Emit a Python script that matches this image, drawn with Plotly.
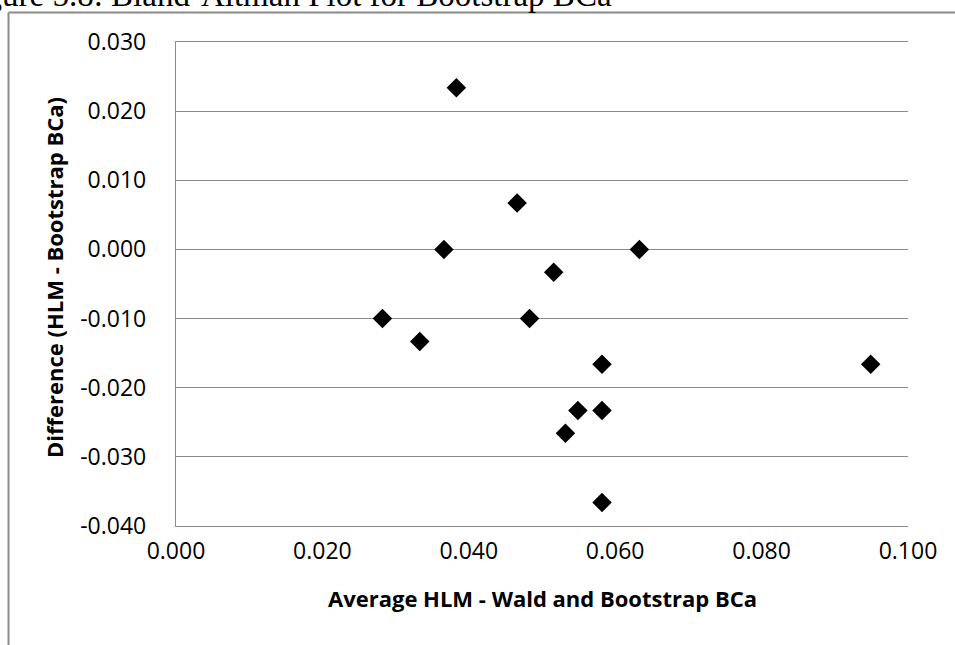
import plotly.graph_objects as go

# Bland-Altman data: mean of the two CI widths vs. their difference
avg_width = [0.0383, 0.0466, 0.0366, 0.0633, 0.0516, 0.0282, 0.0483,
             0.0333, 0.0582, 0.0549, 0.0582, 0.0532, 0.0582, 0.0949]
difference = [0.0234, 0.0067, 0.0000, 0.0000, -0.0033, -0.0100, -0.0100,
              -0.0133, -0.0166, -0.0233, -0.0233, -0.0266, -0.0366, -0.0166]

x_ticks = [0.000, 0.020, 0.040, 0.060, 0.080, 0.100]
y_ticks = [0.030, 0.020, 0.010, 0.000, -0.010, -0.020, -0.030, -0.040]
x_tick_labels = ["0.000", "0.020", "0.040", "0.060", "0.080", "0.100"]
y_tick_labels = ["0.030", "0.020", "0.010", "0.000",
                 "-0.010", "-0.020", "-0.030", "-0.040"]

caption = "Figure 5.8: Bland-Altman Plot for Bootstrap BCa"
x_title = "Average HLM - Wald and Bootstrap BCa"
y_title = "Difference (HLM - Bootstrap BCa)"

W, H = 955, 645
ML, MR, MT, MB = 176, 47, 42, 119
PW, PH = W - ML - MR, H - MT - MB
GRID = "#8a8a8a"


def px_x(px):
    return (px - ML) / PW


def px_y(py):
    return (H - MB - py) / PH


fig = go.Figure(
    go.Scatter(
        x=avg_width,
        y=difference,
        mode="markers",
        marker=dict(symbol="diamond", size=15, color="#000000",
                    line=dict(width=0)),
        showlegend=False,
    )
)

fig.update_layout(
    width=W,
    height=H,
    margin=dict(l=ML, r=MR, t=MT, b=MB, pad=0),
    paper_bgcolor="white",
    plot_bgcolor="white",
    font=dict(family="Open Sans", color="#000000", size=23),
    xaxis=dict(
        range=[0, 0.1],
        tickvals=x_ticks,
        ticktext=x_tick_labels,
        showgrid=False,
        zeroline=False,
        showline=True,
        mirror=True,
        linecolor=GRID,
        linewidth=1.3,
        ticks="",
        ticklabelstandoff=4,
        tickfont=dict(size=23),
    ),
    yaxis=dict(
        range=[-0.04, 0.03],
        tickvals=y_ticks,
        ticktext=y_tick_labels,
        showgrid=True,
        gridcolor=GRID,
        gridwidth=1.3,
        zeroline=False,
        showline=True,
        linecolor=GRID,
        linewidth=1.3,
        ticks="",
        ticklabelstandoff=24,
        tickfont=dict(size=23),
    ),
)

# Axis titles
fig.add_annotation(
    text=f"<b>{x_title}</b>", xref="paper", yref="paper",
    x=0.5, y=px_y(598), xanchor="center", yanchor="middle",
    showarrow=False, font=dict(size=22),
)
fig.add_annotation(
    text=f"<b>{y_title}</b>", xref="paper", yref="paper",
    x=px_x(54), y=px_y(278), xanchor="center", yanchor="middle",
    textangle=-90, showarrow=False, font=dict(size=22),
)

# Figure caption above the chart frame
fig.add_annotation(
    text=caption, xref="paper", yref="paper",
    x=px_x(-44), y=px_y(-4.6), xanchor="left", yanchor="middle",
    showarrow=False,
    font=dict(family="Liberation Serif", size=33, color="#000000"),
)

# Chart frame (top and left edges)
fig.add_shape(type="line", xref="paper", yref="paper",
              x0=px_x(8.5), x1=px_x(W + 10), y0=px_y(12.5), y1=px_y(12.5),
              line=dict(color=GRID, width=2))
fig.add_shape(type="line", xref="paper", yref="paper",
              x0=px_x(8.5), x1=px_x(8.5), y0=px_y(12.5), y1=px_y(H + 10),
              line=dict(color=GRID, width=2))

fig.write_html("out.html")
